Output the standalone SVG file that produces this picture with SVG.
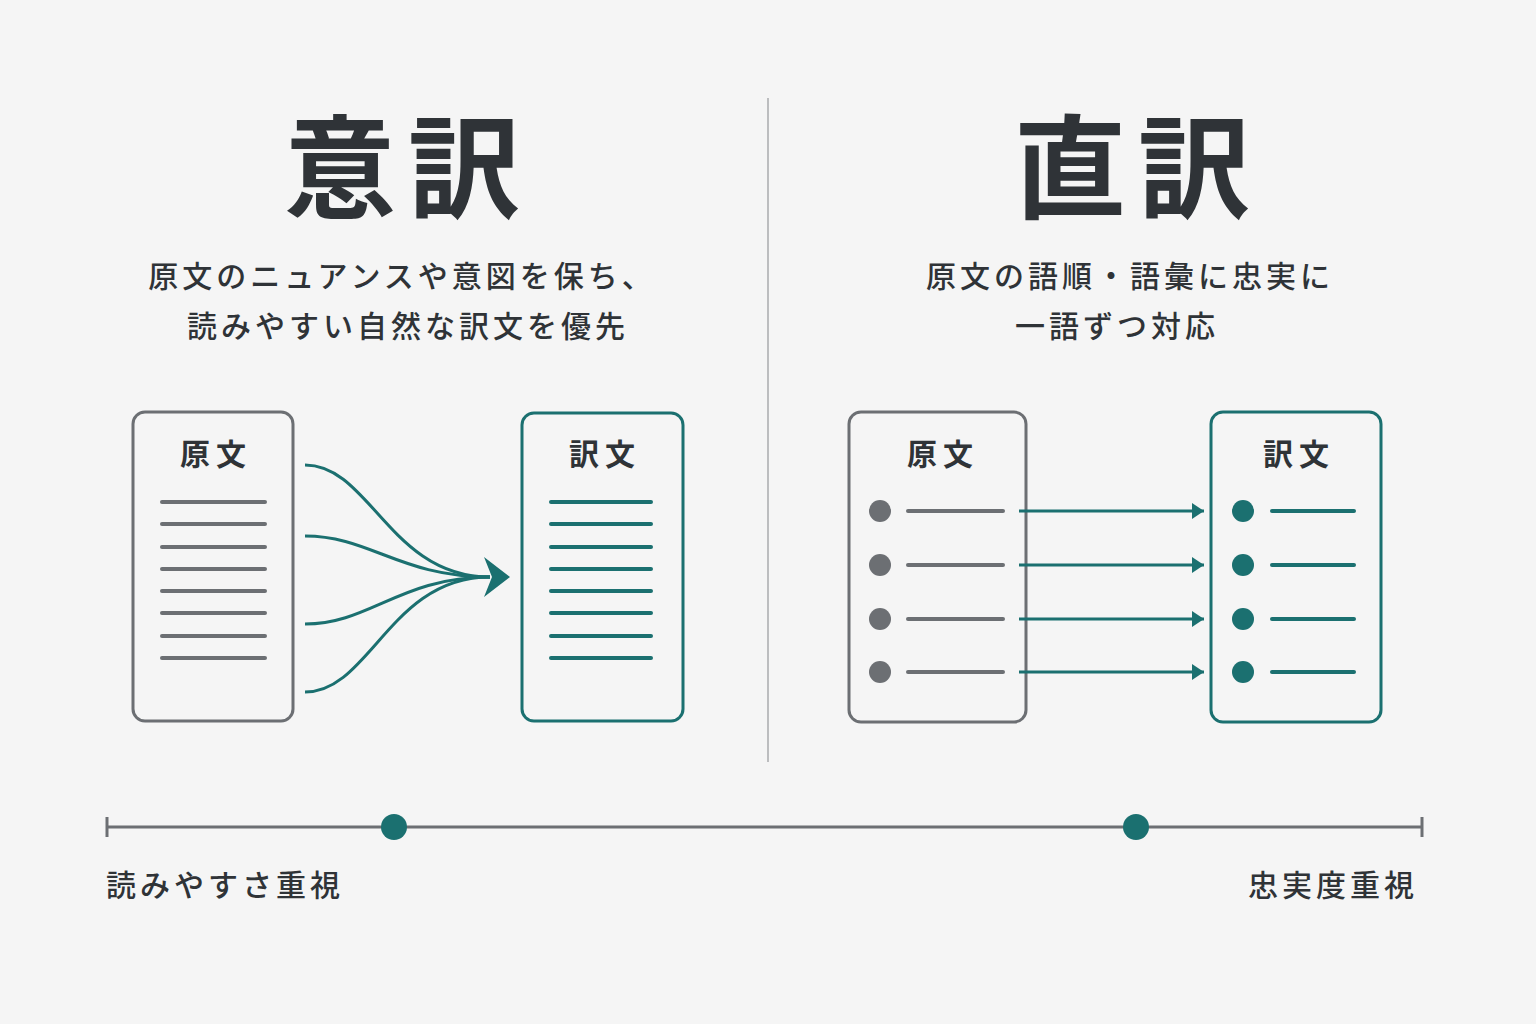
<svg xmlns="http://www.w3.org/2000/svg" width="1536" height="1024" viewBox="0 0 1536 1024">
<defs>
<style>
.t{font-family:"Noto Sans CJK JP","Noto Sans",sans-serif;fill:#2f3337}
.title{font-size:112px;font-weight:700;letter-spacing:12px}
.sub{font-size:30px;font-weight:500;letter-spacing:4px}
.lbl{font-size:30px;font-weight:700;letter-spacing:6px}
.gbox{fill:none;stroke:#6c6f73;stroke-width:3}
.tbox{fill:none;stroke:#1b7070;stroke-width:3}
.gl{stroke:#6c6f73;stroke-width:4;stroke-linecap:round}
.tl{stroke:#1b7070;stroke-width:4;stroke-linecap:round}
.curve{fill:none;stroke:#1b7070;stroke-width:3}
.arr{stroke:#1b7070;stroke-width:3;marker-end:url(#ah)}
</style>
<marker id="ah" viewBox="0 0 12 16" refX="12" refY="8" markerWidth="12" markerHeight="16" markerUnits="userSpaceOnUse" orient="auto">
<path d="M0,0 L12,8 L0,16 Z" fill="#1b7070"/>
</marker>
</defs>
<rect width="1536" height="1024" fill="#f5f5f5"/>
<line x1="768" y1="98" x2="768" y2="762" stroke="#a8aaac" stroke-width="1.5"/>

<g id="left-header">
<text class="t title" x="408" y="210" text-anchor="middle">意訳</text>
<text class="t sub" x="402" y="287" text-anchor="middle">原文のニュアンスや意図を保ち、</text>
<text class="t sub" x="408" y="337" text-anchor="middle">読みやすい自然な訳文を優先</text>
</g>
<g id="right-header">
<text class="t title" x="1138" y="210" text-anchor="middle">直訳</text>
<text class="t sub" x="1130" y="287" text-anchor="middle">原文の語順・語彙に忠実に</text>
<text class="t sub" x="1117" y="337" text-anchor="middle">一語ずつ対応</text>
</g>

<g id="left-source">
<rect class="gbox" x="133" y="412" width="160" height="309" rx="12"/>
<text class="t lbl" x="216" y="465" text-anchor="middle">原文</text>
<line class="gl" x1="162" y1="502" x2="265" y2="502"/>
<line class="gl" x1="162" y1="524" x2="265" y2="524"/>
<line class="gl" x1="162" y1="547" x2="265" y2="547"/>
<line class="gl" x1="162" y1="569" x2="265" y2="569"/>
<line class="gl" x1="162" y1="591" x2="265" y2="591"/>
<line class="gl" x1="162" y1="613" x2="265" y2="613"/>
<line class="gl" x1="162" y1="636" x2="265" y2="636"/>
<line class="gl" x1="162" y1="658" x2="265" y2="658"/>
</g>
<g id="left-target">
<rect class="tbox" x="522" y="413" width="161" height="308" rx="12"/>
<text class="t lbl" x="605" y="465" text-anchor="middle">訳文</text>
<line class="tl" x1="551" y1="502" x2="651" y2="502"/>
<line class="tl" x1="551" y1="524" x2="651" y2="524"/>
<line class="tl" x1="551" y1="547" x2="651" y2="547"/>
<line class="tl" x1="551" y1="569" x2="651" y2="569"/>
<line class="tl" x1="551" y1="591" x2="651" y2="591"/>
<line class="tl" x1="551" y1="613" x2="651" y2="613"/>
<line class="tl" x1="551" y1="636" x2="651" y2="636"/>
<line class="tl" x1="551" y1="658" x2="651" y2="658"/>
</g>

<g id="right-source">
<rect class="gbox" x="849" y="412" width="177" height="310" rx="12"/>
<text class="t lbl" x="943" y="465" text-anchor="middle">原文</text>
<g fill="#6c6f73">
<circle cx="880" cy="511" r="11"/><circle cx="880" cy="565" r="11"/><circle cx="880" cy="619" r="11"/><circle cx="880" cy="672" r="11"/>
</g>
<line class="gl" x1="908" y1="511" x2="1003" y2="511"/>
<line class="gl" x1="908" y1="565" x2="1003" y2="565"/>
<line class="gl" x1="908" y1="619" x2="1003" y2="619"/>
<line class="gl" x1="908" y1="672" x2="1003" y2="672"/>
</g>
<g id="right-target">
<rect class="tbox" x="1211" y="412" width="170" height="310" rx="12"/>
<text class="t lbl" x="1299" y="465" text-anchor="middle">訳文</text>
<g fill="#1b7070">
<circle cx="1243" cy="511" r="11"/><circle cx="1243" cy="565" r="11"/><circle cx="1243" cy="619" r="11"/><circle cx="1243" cy="672" r="11"/>
</g>
<line class="tl" x1="1272" y1="511" x2="1354" y2="511"/>
<line class="tl" x1="1272" y1="565" x2="1354" y2="565"/>
<line class="tl" x1="1272" y1="619" x2="1354" y2="619"/>
<line class="tl" x1="1272" y1="672" x2="1354" y2="672"/>
</g>

<g id="connectors">
<path class="curve" d="M305,465 C370,465 390,577 490,577"/>
<path class="curve" d="M305,536 C370,536 400,577 490,577"/>
<path class="curve" d="M305,624 C370,624 400,577 490,577"/>
<path class="curve" d="M305,692 C370,692 390,577 490,577"/>
<path d="M510,577 L484,557 L492,577 L484,597 Z" fill="#1b7070"/>
<line class="arr" x1="1019" y1="511" x2="1204" y2="511"/>
<line class="arr" x1="1019" y1="565" x2="1204" y2="565"/>
<line class="arr" x1="1019" y1="619" x2="1204" y2="619"/>
<line class="arr" x1="1019" y1="672" x2="1204" y2="672"/>
</g>

<g id="scale">
<line x1="107" y1="827" x2="1422" y2="827" stroke="#6c6f73" stroke-width="3"/>
<line x1="107" y1="817" x2="107" y2="837" stroke="#6c6f73" stroke-width="3"/>
<line x1="1422" y1="817" x2="1422" y2="837" stroke="#6c6f73" stroke-width="3"/>
<circle cx="394" cy="827" r="13" fill="#1b7070"/>
<circle cx="1136" cy="827" r="13" fill="#1b7070"/>
<text class="t sub" x="106" y="896">読みやすさ重視</text>
<text class="t sub" x="1418" y="896" text-anchor="end">忠実度重視</text>
</g>
</svg>
